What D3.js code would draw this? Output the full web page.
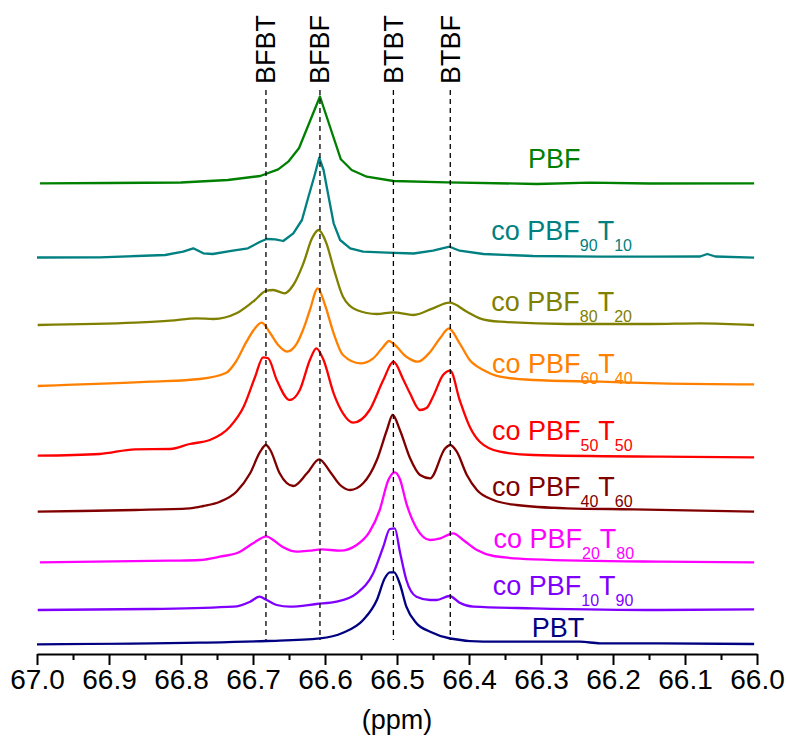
<!DOCTYPE html>
<html>
<head>
<meta charset="utf-8">
<script src="https://cdn.jsdelivr.net/npm/d3@7"></script>
<style>
  html, body { margin: 0; padding: 0; background: #fff; }
  svg { display: block; font-family: "Liberation Sans", Arial, sans-serif; }
</style>
</head>
<body>
<svg id="chart" width="786" height="738"></svg>
<script>
// ---------------- DATA ----------------
const majorTicks = [67.0, 66.9, 66.8, 66.7, 66.6, 66.5, 66.4, 66.3, 66.2, 66.1, 66.0];
const minorTicks = [66.95, 66.85, 66.75, 66.65, 66.55, 66.45, 66.35, 66.25, 66.15, 66.05];
const assignPpm = [66.682, 66.607, 66.505, 66.426];
const assignLabels = ["BFBT", "BFBF", "BTBT", "BTBF"];

const seriesNames = ["PBF", "co PBF90T10", "co PBF80T20", "co PBF60T40", "co PBF50T50",
                     "co PBF40T60", "co PBF20T80", "co PBF10T90", "PBT"];
const seriesColors = ["#008000", "#008080", "#808000", "#FF8000", "#FF0000",
                      "#800000", "#FF00FF", "#8000FF", "#000080"];
// vertical stacking offsets (a.u.)
const seriesOffsets = [470.5, 396.5, 329, 269, 198, 142.5, 92, 44.5, 10];

// [ppm, intensity a.u.]
const PBF = [[66.996,0.2],[66.900,0.5],[66.800,1],[66.735,3.5],[66.690,7.5],[66.665,14.2],[66.651,21.8],[66.636,35.5],[66.607,87],[66.578,24.2],[66.563,13.5],[66.542,6.8],[66.505,2.5],[66.431,1.2],[66.306,-0.5],[66.232,0.8],[66.149,0],[66.004,0.2]];
const PBF90T10 = [[67.0,0],[66.913,0.2],[66.822,2.5],[66.797,5.8],[66.783,9.2],[66.769,4.2],[66.756,3.5],[66.728,6.8],[66.707,9.2],[66.690,15.8],[66.681,18.5],[66.669,18.2],[66.658,16.5],[66.644,24.2],[66.632,37.5],[66.623,60.8],[66.615,80.8],[66.608,99.8],[66.602,87.5],[66.595,60.8],[66.588,34.2],[66.579,17.5],[66.565,9.2],[66.547,5.8],[66.514,4.8],[66.477,4],[66.450,6.8],[66.427,10.8],[66.413,6.8],[66.380,3.5],[66.311,1.5],[66.218,0.8],[66.149,0.8],[66.079,1],[66.069,3.5],[66.058,1],[66.004,-0.2]];
const PBF80T20 = [[66.999,0],[66.864,2.3],[66.815,4.3],[66.778,6.7],[66.755,6],[66.723,11.7],[66.700,23.3],[66.681,34.3],[66.672,35],[66.656,31.7],[66.644,40],[66.630,61.7],[66.618,86.7],[66.609,95],[66.598,81.7],[66.588,56.7],[66.575,28.3],[66.556,15],[66.528,11],[66.505,12.7],[66.477,10],[66.450,16.7],[66.427,22.3],[66.403,13.3],[66.385,6.7],[66.357,3.3],[66.264,1],[66.149,1],[66.079,1.7],[66.004,0]];
const PBF60T40 = [[66.999,-1],[66.843,3.3],[66.774,6],[66.737,12.3],[66.724,23],[66.709,43.3],[66.699,55],[66.688,62.3],[66.676,51.7],[66.665,40],[66.653,33.5],[66.639,41.7],[66.629,58],[66.621,75],[66.610,96.7],[66.600,80],[66.588,51.7],[66.575,30],[66.551,21.7],[66.533,26.7],[66.519,38.3],[66.511,44],[66.506,42],[66.487,28.3],[66.471,23.3],[66.454,33],[66.440,47],[66.428,56.5],[66.413,41.7],[66.399,25],[66.380,15],[66.357,8.3],[66.311,5],[66.218,3.3],[66.135,1.7],[66.004,0.7]];
const PBF50T50 = [[66.999,0.3],[66.913,2],[66.864,6.7],[66.815,7],[66.788,12],[66.760,16],[66.732,29.3],[66.713,49.3],[66.697,79.3],[66.686,98.7],[66.679,97.7],[66.667,76],[66.649,56],[66.635,66],[66.621,96],[66.612,107.7],[66.602,96],[66.588,62.7],[66.575,42.7],[66.561,33.3],[66.538,46],[66.519,76],[66.505,94.3],[66.491,76],[66.482,62.7],[66.468,46],[66.459,48],[66.450,59.3],[66.436,81],[66.426,85.3],[66.413,56],[66.399,29.3],[66.385,14.3],[66.357,4.3],[66.311,1],[66.135,-0.7],[66.004,-1.3]];
const PBF40T60 = [[66.999,-0.2],[66.940,0.5],[66.864,1.5],[66.788,3.2],[66.769,5.5],[66.746,9.8],[66.723,19.8],[66.704,38.2],[66.690,59.8],[66.682,66.5],[66.676,61.5],[66.663,38.2],[66.644,25.5],[66.625,38.2],[66.608,52.2],[66.593,39.8],[66.579,26.5],[66.565,21.5],[66.547,28.2],[66.528,51.5],[66.514,81.5],[66.506,96.5],[66.496,81.5],[66.482,53.5],[66.468,36.5],[66.454,33.2],[66.433,63.2],[66.426,66.5],[66.417,59.8],[66.403,36.5],[66.389,21.5],[66.366,11.5],[66.334,6.5],[66.264,3.2],[66.172,2.2],[66.004,-0.2]];
const PBF20T80 = [[66.996,-0.3],[66.815,1.3],[66.774,2],[66.746,5.3],[66.718,10.3],[66.700,18.7],[66.681,25.7],[66.672,22],[66.658,14.7],[66.639,10.3],[66.621,11.3],[66.605,12.7],[66.579,11.3],[66.556,17],[66.538,30.3],[66.524,52],[66.512,82],[66.503,89.7],[66.496,83],[66.487,58.7],[66.473,34],[66.454,22],[66.440,23.7],[66.422,28.7],[66.408,22],[66.389,12],[66.366,6],[66.311,2.7],[66.135,0.3],[66.004,-0.3]];
const PBF10T90 = [[66.999,-0.5],[66.843,0.5],[66.727,2.8],[66.704,7.8],[66.691,12.8],[66.681,9.5],[66.667,4.5],[66.649,2.8],[66.612,5.5],[66.584,7.8],[66.556,16.2],[66.533,36.2],[66.519,62.8],[66.510,80.5],[66.503,81.2],[66.496,57.8],[66.487,29.5],[66.473,12.8],[66.454,9.5],[66.445,9.5],[66.427,13.5],[66.413,6.8],[66.394,2.8],[66.311,1.2],[66.135,-0.5],[66.004,0.2]];
const PBT = [[67.0,-0.3],[66.774,1.3],[66.681,3],[66.607,5.7],[66.575,11.3],[66.547,24],[66.528,44],[66.517,65.7],[66.510,71.7],[66.504,71.7],[66.496,60],[66.487,37.3],[66.473,20.7],[66.454,12.3],[66.426,5.5],[66.380,2.3],[66.246,2.3],[66.218,0.7],[66.135,0.7],[66.004,0]];

const seriesData = [PBF, PBF90T10, PBF80T20, PBF60T40, PBF50T50, PBF40T60, PBF20T80, PBF10T90, PBT];

// label pieces: [main, sub, main, sub]
const labelParts = [["PBF"], ["co PBF","90","T","10"], ["co PBF","80","T","20"], ["co PBF","60","T","40"],
  ["co PBF","50","T","50"], ["co PBF","40","T","60"], ["co PBF","20","T","80"], ["co PBF","10","T","90"], ["PBT"]];

// ---------------- LAYOUT ----------------
const svg = d3.select("#chart");
const x = d3.scaleLinear().domain([67, 66]).range([37, 757]);
const y = d3.scaleLinear().domain([0, 620]).range([654, 34]);
const FONT = 27;

// label layout (ppm at text start, a.u. above own baseline)
const labelLayout = [[66.318, 15.5], [66.369, 17.5], [66.369, 14.3], [66.368, 11.7], [66.368, 16],
                     [66.368, 15.5], [66.366, 14.3], [66.367, 14.5], [66.313, 7.3]];
const sharp = new Set([0, 1]);

// curves
seriesData.forEach((data, i) => {
  const off = seriesOffsets[i];
  const line = d3.line()
    .x(d => x(d[0]))
    .y(d => y(d[1] + off))
    .curve(sharp.has(i) ? d3.curveLinear : d3.curveMonotoneX);
  svg.append("path")
    .datum(data)
    .attr("d", line)
    .attr("fill", "none")
    .attr("stroke", seriesColors[i])
    .attr("stroke-width", 2.3)
    .attr("stroke-linejoin", "round");
});

// dashed assignment lines
svg.append("g").selectAll("line").data(assignPpm).join("line")
  .attr("x1", d => x(d)).attr("x2", d => x(d))
  .attr("y1", y(564)).attr("y2", y(14))
  .attr("stroke", "#000").attr("stroke-width", 1.3)
  .attr("stroke-dasharray", "5,4");

// rotated assignment labels
svg.append("g").selectAll("text").data(assignPpm).join("text")
  .attr("transform", d => `translate(${x(d) + 9.5},${y(570)}) rotate(-90)`)
  .attr("font-size", FONT)
  .attr("fill", "#000")
  .text((d, i) => assignLabels[i]);

// series labels
labelParts.forEach((parts, i) => {
  const t = svg.append("text")
    .attr("x", x(labelLayout[i][0]))
    .attr("y", y(seriesOffsets[i] + labelLayout[i][1]))
    .attr("font-size", FONT)
    .attr("fill", seriesColors[i]);
  parts.forEach((p, k) => {
    const isSub = k % 2 === 1;
    const ts = t.append("tspan").text(p);
    if (isSub) ts.attr("font-size", 16).attr("dy", 11);
    else if (k > 0) ts.attr("dy", -11);
  });
});

// x axis
const axis = d3.axisBottom(x).tickValues(majorTicks).tickFormat(d3.format(".1f"))
  .tickSize(11).tickSizeOuter(0).tickPadding(4);
const gx = svg.append("g").attr("transform", `translate(0,${y(0)})`).call(axis);
gx.select(".domain").attr("stroke-width", 2);
gx.selectAll(".tick line").attr("stroke-width", 2);
gx.selectAll(".tick text").attr("font-size", 28).attr("font-family", "Liberation Sans, Arial, sans-serif").attr("fill", "#000");

const axisMinor = d3.axisBottom(x).tickValues(minorTicks).tickFormat("").tickSize(6).tickSizeOuter(0);
const gm = svg.append("g").attr("transform", `translate(0,${y(0)})`).call(axisMinor);
gm.select(".domain").remove();
gm.selectAll(".tick line").attr("stroke-width", 2);

svg.append("text")
  .attr("x", x(66.5)).attr("y", 729)
  .attr("text-anchor", "middle")
  .attr("font-size", 27)
  .text("(ppm)");
</script>
</body>
</html>
